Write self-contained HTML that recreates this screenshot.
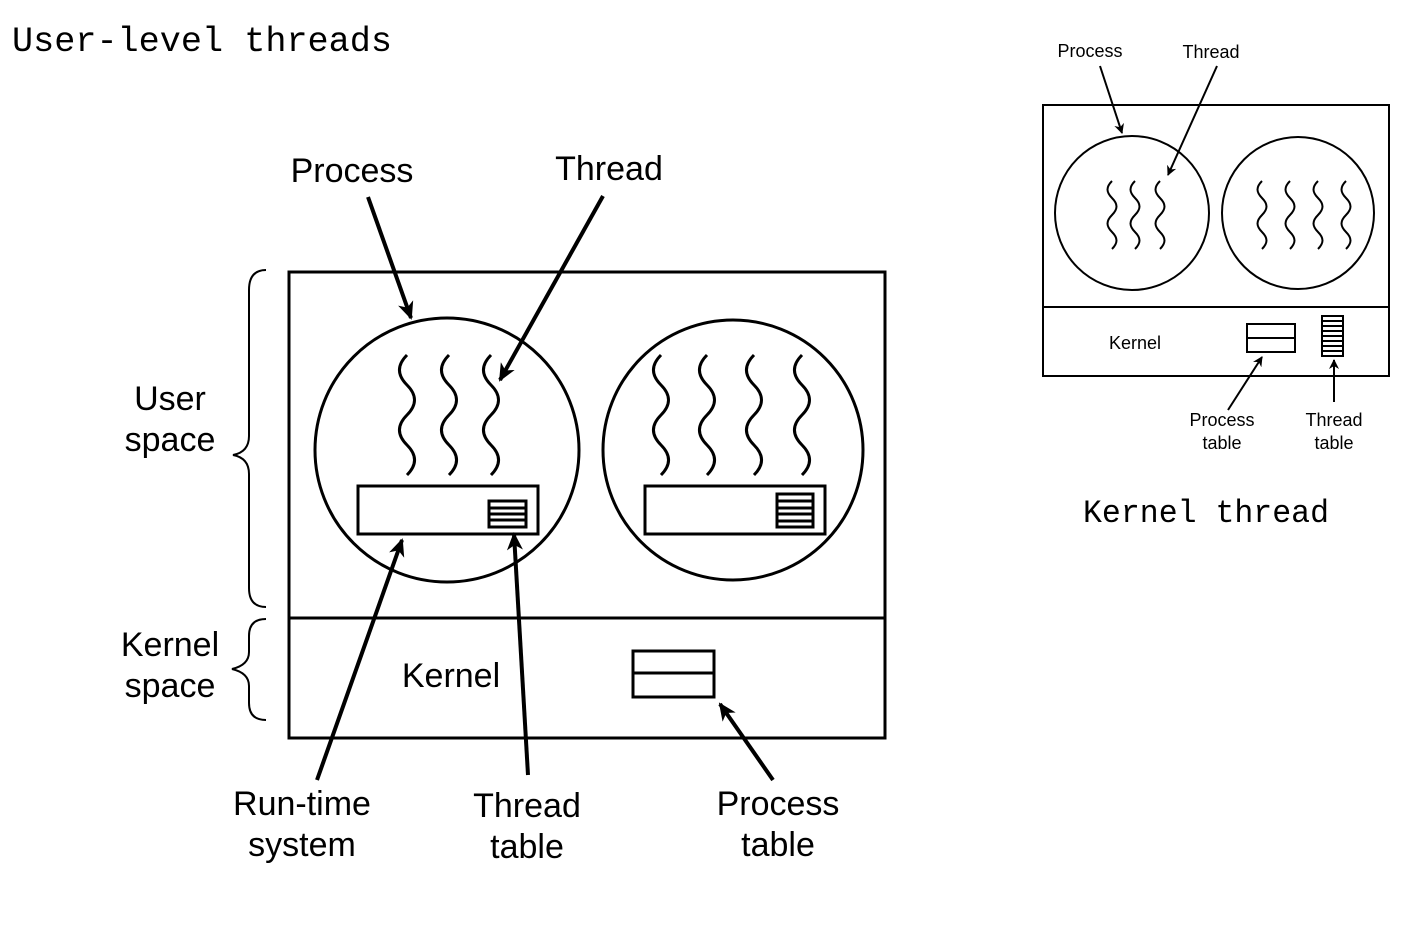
<!DOCTYPE html>
<html><head><meta charset="utf-8"><style>
html,body{margin:0;padding:0;background:#fff;width:1426px;height:948px;overflow:hidden}
svg{display:block}
.s{font-family:"Liberation Sans",sans-serif;fill:#000}
.m{font-family:"Liberation Mono","DejaVu Sans Mono",monospace;fill:#000}
</style></head><body>
<svg width="1426" height="948" viewBox="0 0 1426 948" xmlns="http://www.w3.org/2000/svg">
<defs>
<marker id="ah" markerWidth="10" markerHeight="10" refX="9" refY="5" orient="auto" markerUnits="userSpaceOnUse" viewBox="0 0 10 10">
<path d="M0,0 L10,5 L0,10 L3,5 z" fill="#000"/></marker>
<marker id="ah2" markerWidth="18" markerHeight="16" refX="16" refY="8" orient="auto" markerUnits="userSpaceOnUse" viewBox="0 0 18 16">
<path d="M0,0 L18,8 L0,16 L5,8 z" fill="#000"/></marker>
<path id="sq" d="M0,0 c-10,10 -10,20 0,30 c10,10 10,20 0,30 c-10,10 -10,20 0,30 c10,10 10,20 0,30" fill="none" stroke="#000" stroke-width="3"/>
<path id="sqs" d="M0,0 c-6,6 -6,11 0,17 c6,6 6,11 0,17 c-6,6 -6,11 0,17 c6,6 6,11 0,17" fill="none" stroke="#000" stroke-width="2"/>
</defs>

<text x="12" y="51" class="m" font-size="35" textLength="380" lengthAdjust="spacingAndGlyphs">User-level threads</text>
<text x="1083" y="522" class="m" font-size="32" textLength="246" lengthAdjust="spacingAndGlyphs">Kernel thread</text>

<g stroke="#000" fill="none" stroke-width="3">
<rect x="289" y="272" width="596" height="466"/>
<line x1="289" y1="618" x2="885" y2="618"/>
<circle cx="447" cy="450" r="132"/>
<circle cx="733" cy="450" r="130"/>
<rect x="358" y="486" width="180" height="48"/>
<rect x="489" y="501" width="37" height="26"/>
<line x1="489" y1="508" x2="526" y2="508"/><line x1="489" y1="514" x2="526" y2="514"/><line x1="489" y1="520" x2="526" y2="520"/>
<rect x="645" y="486" width="180" height="48"/>
<rect x="777" y="494" width="36" height="33"/>
<line x1="777" y1="501" x2="813" y2="501"/><line x1="777" y1="508" x2="813" y2="508"/><line x1="777" y1="514" x2="813" y2="514"/><line x1="777" y1="521" x2="813" y2="521"/>
<rect x="633" y="651" width="81" height="46"/>
<line x1="633" y1="673" x2="714" y2="673"/>
</g>
<use href="#sq" x="407" y="355"/><use href="#sq" x="449" y="355"/><use href="#sq" x="491" y="355"/>
<use href="#sq" x="661" y="355"/><use href="#sq" x="707" y="355"/><use href="#sq" x="754" y="355"/><use href="#sq" x="802" y="355"/>

<g stroke="#000" fill="none" stroke-width="2">
<path d="M266,270 Q249,270 249,290 L249,436 Q249,452 233,455 Q249,458 249,474 L249,588 Q249,607 266,607"/>
<path d="M266,619 Q249,619 249,636 L249,652 Q249,665 232,669 Q249,673 249,686 L249,703 Q249,720 266,720"/>
</g>

<g stroke="#000" stroke-width="4" fill="none">
<line x1="368" y1="197" x2="411" y2="318" marker-end="url(#ah2)"/>
<line x1="603" y1="196" x2="500" y2="380" marker-end="url(#ah2)"/>
<line x1="317" y1="780" x2="402" y2="540" marker-end="url(#ah2)"/>
<line x1="528" y1="775" x2="514" y2="534" marker-end="url(#ah2)"/>
<line x1="773" y1="780" x2="720" y2="704" marker-end="url(#ah2)"/>
</g>

<g class="s" font-size="34" text-anchor="middle">
<text x="352" y="182">Process</text>
<text x="609" y="180">Thread</text>
<text x="170" y="410">User</text>
<text x="170" y="451">space</text>
<text x="170" y="656">Kernel</text>
<text x="170" y="697">space</text>
<text x="451" y="687">Kernel</text>
<text x="302" y="815">Run-time</text>
<text x="302" y="856">system</text>
<text x="527" y="817">Thread</text>
<text x="527" y="858">table</text>
<text x="778" y="815">Process</text>
<text x="778" y="856">table</text>
</g>

<g stroke="#000" fill="none" stroke-width="2">
<rect x="1043" y="105" width="346" height="271"/>
<line x1="1043" y1="307" x2="1389" y2="307"/>
<circle cx="1132" cy="213" r="77"/>
<circle cx="1298" cy="213" r="76"/>
<rect x="1247" y="324" width="48" height="28"/>
<line x1="1247" y1="338" x2="1295" y2="338"/>
<rect x="1322" y="316" width="21" height="40"/>
<line x1="1322" y1="321" x2="1343" y2="321"/><line x1="1322" y1="326" x2="1343" y2="326"/><line x1="1322" y1="331" x2="1343" y2="331"/><line x1="1322" y1="336" x2="1343" y2="336"/><line x1="1322" y1="341" x2="1343" y2="341"/><line x1="1322" y1="346" x2="1343" y2="346"/><line x1="1322" y1="351" x2="1343" y2="351"/>
</g>
<use href="#sqs" x="1112" y="181"/><use href="#sqs" x="1135" y="181"/><use href="#sqs" x="1160" y="181"/>
<use href="#sqs" x="1262" y="181"/><use href="#sqs" x="1290" y="181"/><use href="#sqs" x="1318" y="181"/><use href="#sqs" x="1346" y="181"/>
<g stroke="#000" stroke-width="2" fill="none">
<line x1="1100" y1="66" x2="1122" y2="133" marker-end="url(#ah)"/>
<line x1="1217" y1="66" x2="1168" y2="175" marker-end="url(#ah)"/>
<line x1="1228" y1="410" x2="1262" y2="357" marker-end="url(#ah)"/>
<line x1="1334" y1="402" x2="1334" y2="360" marker-end="url(#ah)"/>
</g>
<g class="s" font-size="18" text-anchor="middle">
<text x="1090" y="57">Process</text>
<text x="1211" y="58">Thread</text>
<text x="1135" y="349">Kernel</text>
<text x="1222" y="426">Process</text>
<text x="1222" y="449">table</text>
<text x="1334" y="426">Thread</text>
<text x="1334" y="449">table</text>
</g>
</svg>
</body></html>
